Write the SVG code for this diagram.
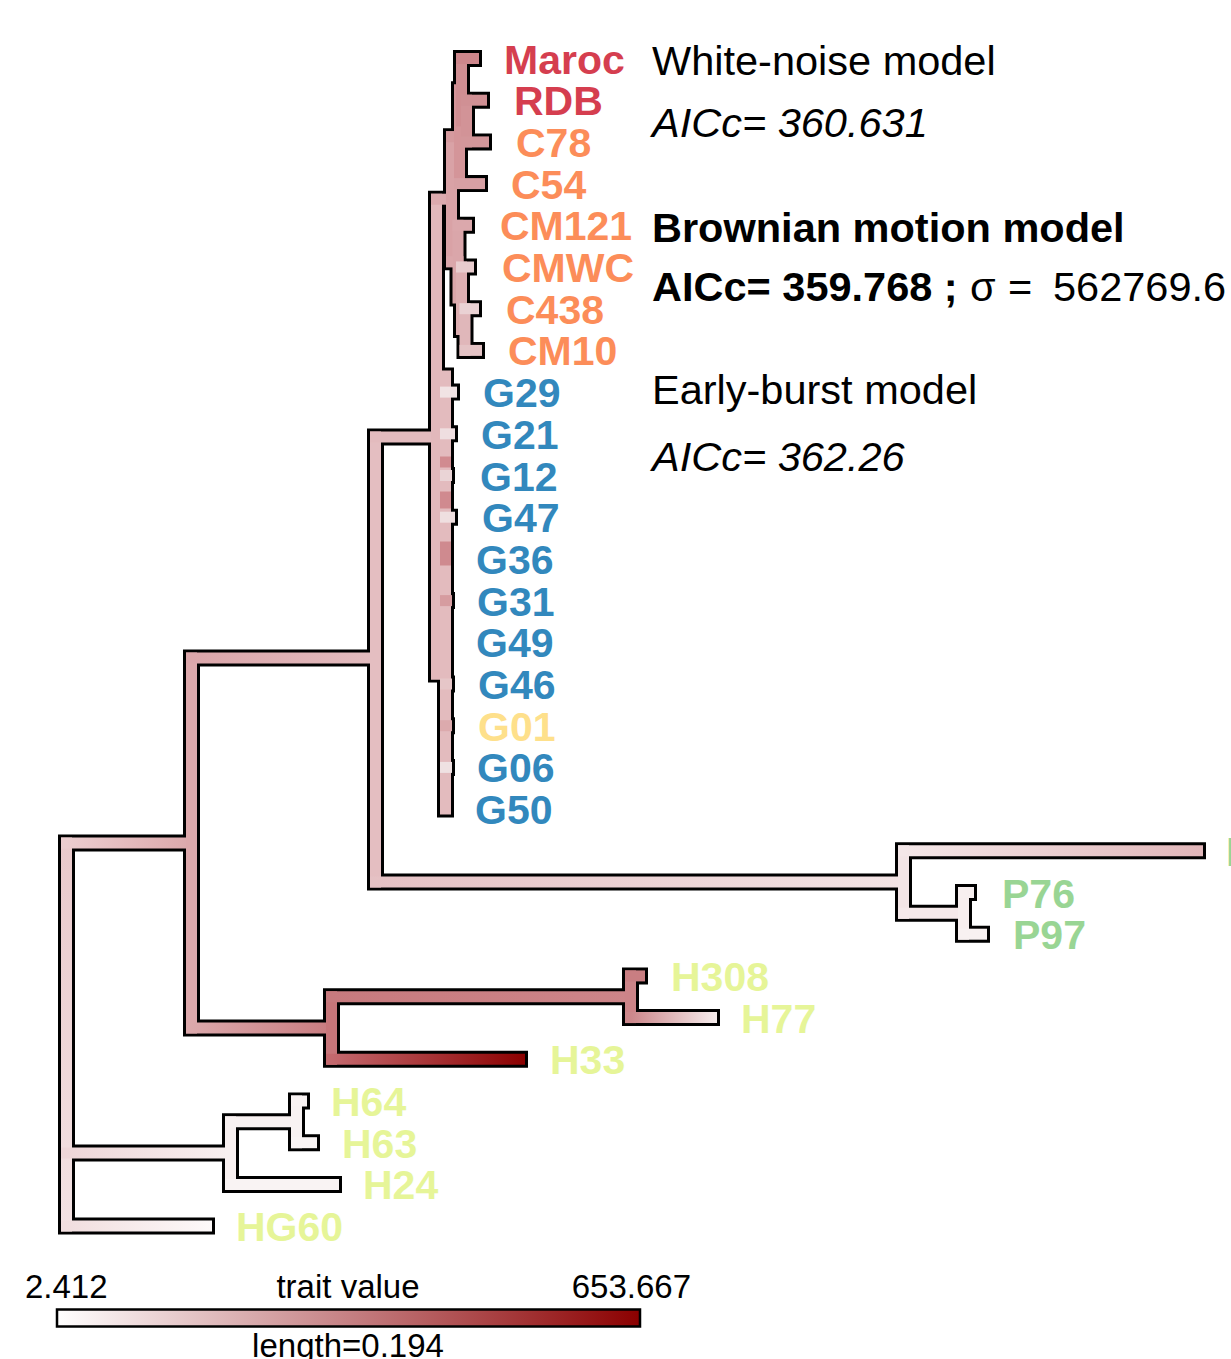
<svg xmlns="http://www.w3.org/2000/svg" width="1231" height="1359" viewBox="0 0 1231 1359">
<style>
.o{fill:none;stroke:#000;stroke-width:17;stroke-linecap:square}
.c line{stroke-width:11;stroke-linecap:square}
.lab{font-family:"Liberation Sans",Arial,sans-serif;font-weight:bold;font-size:41px}
.r{fill:#d53e4f}.or{fill:#fc8d59}.bl{fill:#3288bd}.ye{fill:#fee08b}.gr{fill:#99d594}.li{fill:#e6f598}
.m{font-family:"Liberation Sans",Arial,sans-serif;font-size:41.5px;fill:#000}
.lg{font-family:"Liberation Sans",Arial,sans-serif;font-size:33px;fill:#000}
</style>
<defs>
<linearGradient id="gRootV" gradientUnits="userSpaceOnUse" x1="0" y1="843" x2="0" y2="1226"><stop offset="0" stop-color="#e9c9cb"/><stop offset="1" stop-color="#f3e2e3"/></linearGradient>
<linearGradient id="gRA" gradientUnits="userSpaceOnUse" x1="66" y1="0" x2="192" y2="0"><stop offset="0" stop-color="#ebcdcf"/><stop offset="1" stop-color="#dba8ab"/></linearGradient>
<linearGradient id="gHG60" gradientUnits="userSpaceOnUse" x1="66" y1="0" x2="212" y2="0"><stop offset="0" stop-color="#f1dedf"/><stop offset="1" stop-color="#fdf9f9"/></linearGradient>
<linearGradient id="gRC" gradientUnits="userSpaceOnUse" x1="66" y1="0" x2="231" y2="0"><stop offset="0" stop-color="#eed6d8"/><stop offset="1" stop-color="#f8f0f0"/></linearGradient>
<linearGradient id="gAB" gradientUnits="userSpaceOnUse" x1="192" y1="0" x2="376" y2="0"><stop offset="0" stop-color="#dba6aa"/><stop offset="1" stop-color="#e3bcbf"/></linearGradient>
<linearGradient id="gAH" gradientUnits="userSpaceOnUse" x1="192" y1="0" x2="332" y2="0"><stop offset="0" stop-color="#dba8ab"/><stop offset="1" stop-color="#c97c80"/></linearGradient>
<linearGradient id="gH33" gradientUnits="userSpaceOnUse" x1="332" y1="0" x2="525" y2="0"><stop offset="0" stop-color="#c4696e"/><stop offset="1" stop-color="#8b0000"/></linearGradient>
<linearGradient id="gHH" gradientUnits="userSpaceOnUse" x1="332" y1="0" x2="631" y2="0"><stop offset="0" stop-color="#c77a7e"/><stop offset="1" stop-color="#cd8589"/></linearGradient>
<linearGradient id="gH77" gradientUnits="userSpaceOnUse" x1="631" y1="0" x2="717" y2="0"><stop offset="0" stop-color="#cc878b"/><stop offset="1" stop-color="#f6eded"/></linearGradient>
<linearGradient id="gBP" gradientUnits="userSpaceOnUse" x1="376" y1="0" x2="904" y2="0"><stop offset="0" stop-color="#e5c1c4"/><stop offset="1" stop-color="#f3e4e5"/></linearGradient>
<linearGradient id="gPc" gradientUnits="userSpaceOnUse" x1="904" y1="0" x2="1203" y2="0"><stop offset="0" stop-color="#f4e7e8"/><stop offset="1" stop-color="#e1b6b9"/></linearGradient>
<linearGradient id="gBar" x1="0" y1="0" x2="1" y2="0"><stop offset="0" stop-color="#ffffff"/><stop offset="0.5" stop-color="#c58083"/><stop offset="1" stop-color="#8b0000"/></linearGradient>
</defs>

<g id="connectors">
<path class="o" d="M66.5 843V1226.1M66.5 843H191.5M66.5 1153H230.5M66.5 1226.1H206.5
M191.5 658V1028M191.5 658H375.5M191.5 1028H331.5
M331.5 996.75V1059.3M331.5 996.75H630.5M331.5 1059.3H519.5
M630.5 975.9V1017.6M630.5 975.9H639.5M630.5 1017.6H711.5
M230.5 1121.85V1184.4M230.5 1121.85H296.5M230.5 1184.4H333.5
M296.5 1101V1142.7M296.5 1101H301.5M296.5 1142.7H311.5
M375.5 437V882M375.5 437H436.5M375.5 882H903.5
M903.5 850.8V913.35M903.5 850.8H1197.5M903.5 913.35H963.5
M963.5 892.5V934.2M963.5 892.5H968.5M963.5 934.2H981.5
M436.5 199.2V674M436.5 199.2H451.5M436.5 674H445.5
M451.5 136.7V261.7M451.5 136.7H459.5M451.5 261.7H458
M459.5 89.8V183.6M459.5 89.8H461.5M459.5 183.6H479.5
M461.5 58.5V121M461.5 58.5H473.5M461.5 121H466.5
M466.5 100.2V141.9M466.5 100.2H481.5M466.5 141.9H483.5
M458 225.3V298M458 225.3H466.5M458 298H461.5
M461.5 267V329.5M461.5 267H468.5M461.5 329.5H465
M465 308.7V350.4M465 308.7H473.5M465 350.4H476.5
M445.5 376V809.1M445.5 392.1H451.5M445.5 433.8H449.5M445.5 475.5H446.5M445.5 517.2H449.5M445.5 600.6H446.5M445.5 684H446.5M445.5 725.7H446.5M445.5 767.4H446.5"/>
<g class="c">
<line x1="66.5" y1="843" x2="66.5" y2="1226.1" stroke="url(#gRootV)"/>
<line x1="66.5" y1="1153" x2="230.5" y2="1153" stroke="url(#gRC)"/>
<line x1="66.5" y1="1226.1" x2="206.5" y2="1226.1" stroke="url(#gHG60)"/>
<line x1="230.5" y1="1121.85" x2="230.5" y2="1184.4" stroke="#f8f0f0"/>
<line x1="230.5" y1="1121.85" x2="296.5" y2="1121.85" stroke="#f8f1f1"/>
<line x1="230.5" y1="1184.4" x2="333.5" y2="1184.4" stroke="#f9f3f3"/>
<line x1="296.5" y1="1101" x2="296.5" y2="1142.7" stroke="#f8f2f2"/>
<line x1="296.5" y1="1101" x2="301.5" y2="1101" stroke="#f9f3f3"/>
<line x1="296.5" y1="1142.7" x2="311.5" y2="1142.7" stroke="#f9f4f4"/>
<line x1="66.5" y1="843" x2="191.5" y2="843" stroke="url(#gRA)"/>
<line x1="191.5" y1="658" x2="191.5" y2="1028" stroke="#dca8ab"/>
<line x1="191.5" y1="658" x2="375.5" y2="658" stroke="url(#gAB)"/>
<line x1="191.5" y1="1028" x2="331.5" y2="1028" stroke="url(#gAH)"/>
<line x1="331.5" y1="996.75" x2="331.5" y2="1059.3" stroke="#c7767a"/>
<line x1="331.5" y1="1059.3" x2="519.5" y2="1059.3" stroke="url(#gH33)"/>
<line x1="331.5" y1="996.75" x2="630.5" y2="996.75" stroke="url(#gHH)"/>
<line x1="630.5" y1="975.9" x2="630.5" y2="1017.6" stroke="#cc8488"/>
<line x1="630.5" y1="975.9" x2="639.5" y2="975.9" stroke="#c97e82"/>
<line x1="630.5" y1="1017.6" x2="711.5" y2="1017.6" stroke="url(#gH77)"/>
<line x1="375.5" y1="437" x2="375.5" y2="882" stroke="#e4bec1"/>
<line x1="375.5" y1="882" x2="903.5" y2="882" stroke="url(#gBP)"/>
<line x1="903.5" y1="850.8" x2="903.5" y2="913.35" stroke="#f3e5e6"/>
<line x1="903.5" y1="850.8" x2="1197.5" y2="850.8" stroke="url(#gPc)"/>
<line x1="903.5" y1="913.35" x2="963.5" y2="913.35" stroke="#f5e9ea"/>
<line x1="963.5" y1="892.5" x2="963.5" y2="934.2" stroke="#f7eeee"/>
<line x1="963.5" y1="892.5" x2="968.5" y2="892.5" stroke="#f7efef"/>
<line x1="963.5" y1="934.2" x2="981.5" y2="934.2" stroke="#f8f1f1"/>
<line x1="375.5" y1="437" x2="436.5" y2="437" stroke="#e3bbbe"/>
<line x1="436.5" y1="199.2" x2="436.5" y2="674" stroke="#e2b8bb"/>
<line x1="436.5" y1="674" x2="445.5" y2="674" stroke="#e2b8bb"/>
<line x1="445.5" y1="376" x2="445.5" y2="809.1" stroke="#e3bbbe"/>
<line x1="445.5" y1="392.1" x2="451.5" y2="392.1" stroke="#f1e3e4"/>
<line x1="445.5" y1="433.8" x2="449.5" y2="433.8" stroke="#efdee0"/>
<line x1="445.5" y1="462" x2="445.5" y2="462" stroke="#d18b90"/>
<line x1="445.5" y1="475.5" x2="446.5" y2="475.5" stroke="#ead4d6"/>
<line x1="445.5" y1="497" x2="445.5" y2="503" stroke="#d08a8f"/>
<line x1="445.5" y1="517.2" x2="449.5" y2="517.2" stroke="#efdfe0"/>
<line x1="445.5" y1="547" x2="445.5" y2="560" stroke="#cf8a8f"/>
<line x1="445.5" y1="600.6" x2="446.5" y2="600.6" stroke="#d69ca0"/>
<line x1="445.5" y1="684" x2="446.5" y2="684" stroke="#e6c6c8"/>
<line x1="445.5" y1="725.7" x2="446.5" y2="725.7" stroke="#dcaaad"/>
<line x1="445.5" y1="767.4" x2="446.5" y2="767.4" stroke="#efe1e2"/>
<line x1="436.5" y1="199.2" x2="451.5" y2="199.2" stroke="#dcaaae"/>
<line x1="451.5" y1="136.7" x2="451.5" y2="261.7" stroke="#d9a2a6"/>
<line x1="451.5" y1="136.7" x2="459.5" y2="136.7" stroke="#d59a9e"/>
<line x1="451.5" y1="261.7" x2="458" y2="261.7" stroke="#dba7ab"/>
<line x1="459.5" y1="89.8" x2="459.5" y2="183.6" stroke="#d49599"/>
<line x1="459.5" y1="183.6" x2="479.5" y2="183.6" stroke="#d7a0a4"/>
<line x1="461.5" y1="58.5" x2="461.5" y2="121" stroke="#d08e92"/>
<line x1="461.5" y1="58.5" x2="473.5" y2="58.5" stroke="#cd868b"/>
<line x1="466.5" y1="100.2" x2="466.5" y2="141.9" stroke="#d29397"/>
<line x1="466.5" y1="100.2" x2="481.5" y2="100.2" stroke="#d09094"/>
<line x1="466.5" y1="141.9" x2="483.5" y2="141.9" stroke="#d3969a"/>
<line x1="458" y1="225.3" x2="458" y2="298" stroke="#daa6aa"/>
<line x1="458" y1="225.3" x2="466.5" y2="225.3" stroke="#dba8ac"/>
<line x1="461.5" y1="267" x2="461.5" y2="329.5" stroke="#ddaeb1"/>
<line x1="461.5" y1="267" x2="468.5" y2="267" stroke="#e8ccce"/>
<line x1="465" y1="308.7" x2="465" y2="350.4" stroke="#e0b7ba"/>
<line x1="465" y1="308.7" x2="473.5" y2="308.7" stroke="#ead2d4"/>
<line x1="465" y1="350.4" x2="476.5" y2="350.4" stroke="#e4c3c5"/>
</g>
</g>

<g id="tip-Maroc"><text class="lab r" x="504" y="73.5">Maroc</text></g>
<g id="tip-RDB"><text class="lab r" x="514" y="115.2">RDB</text></g>
<g id="tip-C78"><text class="lab or" x="516" y="156.9">C78</text></g>
<g id="tip-C54"><text class="lab or" x="511" y="198.6">C54</text></g>
<g id="tip-CM121"><text class="lab or" x="500" y="240.3">CM121</text></g>
<g id="tip-CMWC"><text class="lab or" x="502" y="282">CMWC</text></g>
<g id="tip-C438"><text class="lab or" x="506" y="323.7">C438</text></g>
<g id="tip-CM10"><text class="lab or" x="508" y="365.4">CM10</text></g>
<g id="tip-G29"><text class="lab bl" x="483" y="407.1">G29</text></g>
<g id="tip-G21"><text class="lab bl" x="481" y="448.8">G21</text></g>
<g id="tip-G12"><text class="lab bl" x="480" y="490.5">G12</text></g>
<g id="tip-G47"><text class="lab bl" x="482" y="532.2">G47</text></g>
<g id="tip-G36"><text class="lab bl" x="476" y="573.9">G36</text></g>
<g id="tip-G31"><text class="lab bl" x="477" y="615.6">G31</text></g>
<g id="tip-G49"><text class="lab bl" x="476" y="657.3">G49</text></g>
<g id="tip-G46"><text class="lab bl" x="478" y="699">G46</text></g>
<g id="tip-G01"><text class="lab ye" x="478" y="740.7">G01</text></g>
<g id="tip-G06"><text class="lab bl" x="477" y="782.4">G06</text></g>
<g id="tip-G50"><text class="lab bl" x="475" y="824.1">G50</text></g>
<g id="tip-P"><text class="lab gr" x="1226" y="865.8">P</text></g>
<g id="tip-P76"><text class="lab gr" x="1002" y="907.5">P76</text></g>
<g id="tip-P97"><text class="lab gr" x="1013" y="949.2">P97</text></g>
<g id="tip-H308"><text class="lab li" x="671" y="990.9">H308</text></g>
<g id="tip-H77"><text class="lab li" x="741" y="1032.6">H77</text></g>
<g id="tip-H33"><text class="lab li" x="550" y="1074.3">H33</text></g>
<g id="tip-H64"><text class="lab li" x="331" y="1116">H64</text></g>
<g id="tip-H63"><text class="lab li" x="342" y="1157.7">H63</text></g>
<g id="tip-H24"><text class="lab li" x="363" y="1199.4">H24</text></g>
<g id="tip-HG60"><text class="lab li" x="236" y="1241.1">HG60</text></g>

<g id="models">
<text class="m" x="652" y="75">White-noise model</text>
<text class="m" x="652" y="137" font-style="italic">AICc= 360.631</text>
<text class="m" x="652" y="242" font-weight="bold">Brownian motion model</text>
<text class="m" x="652" y="301"><tspan font-weight="bold">AICc= 359.768 ;</tspan><tspan x="970">σ</tspan><tspan x="1008">=</tspan><tspan x="1053">562769.6</tspan></text>
<text class="m" x="652" y="404">Early-burst model</text>
<text class="m" x="652" y="471" font-style="italic">AICc= 362.26</text>
</g>

<g id="legend">
<text class="lg" x="25" y="1298">2.412</text>
<text class="lg" x="348" y="1298" text-anchor="middle">trait value</text>
<text class="lg" x="691" y="1298" text-anchor="end">653.667</text>
<rect x="57" y="1309.5" width="583" height="17" fill="url(#gBar)" stroke="#000" stroke-width="2.5"/>
<text class="lg" x="348" y="1357" text-anchor="middle">length=0.194</text>
</g>
</svg>
